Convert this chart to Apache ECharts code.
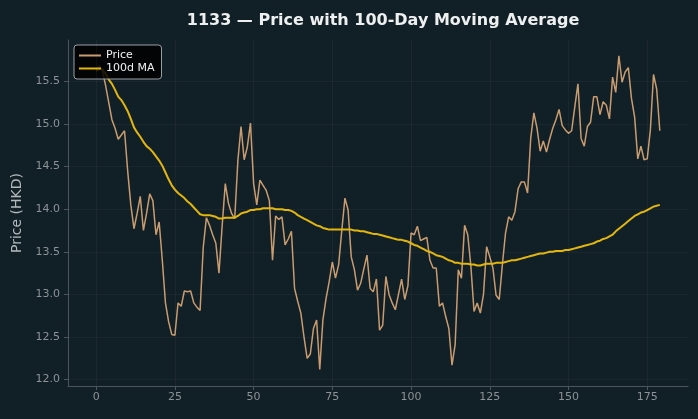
<!DOCTYPE html>
<html>
<head>
<meta charset="utf-8">
<script src="https://cdn.jsdelivr.net/npm/echarts@6/dist/echarts.min.js"></script>
<style>
  html, body { margin: 0; padding: 0; background: #111f27; }
  #chart { width: 698px; height: 419px; }
</style>
</head>
<body>
<div id="chart"></div>
<script>
// closing price, one value per trading day
const price = [
  15.62, 15.68, 15.62, 15.45, 15.25, 15.05, 14.95, 14.82, 14.87, 14.92,
  14.45, 14.05, 13.77, 13.95, 14.15, 13.75, 13.95, 14.18, 14.10, 13.70,
  13.85, 13.40, 12.90, 12.68, 12.53, 12.52, 12.90, 12.86, 13.04, 13.03,
  13.04, 12.90, 12.85, 12.81, 13.55, 13.90, 13.81, 13.70, 13.60, 13.25,
  13.80, 14.30, 14.07, 13.95, 13.89, 14.57, 14.97, 14.58, 14.73, 15.01,
  14.30, 14.05, 14.34, 14.28, 14.22, 14.10, 13.40, 13.92, 13.88, 13.91,
  13.58, 13.65, 13.74, 13.07, 12.92, 12.78, 12.50, 12.25, 12.30, 12.60,
  12.70, 12.12, 12.70, 12.95, 13.15, 13.38, 13.19, 13.35, 13.75, 14.13,
  13.99, 13.44, 13.29, 13.05, 13.13, 13.30, 13.46, 13.07, 13.03, 13.18,
  12.58, 12.64, 13.21, 13.00, 12.90, 12.82, 13.00, 13.18, 12.94, 13.10,
  13.72, 13.70, 13.80, 13.63, 13.65, 13.67, 13.40, 13.31, 13.31, 12.86,
  12.90, 12.74, 12.60, 12.17, 12.41, 13.29, 13.19, 13.81, 13.70, 13.33,
  12.80, 12.90, 12.78, 13.00, 13.56, 13.44, 13.31, 12.99, 12.94, 13.35,
  13.72, 13.91, 13.87, 13.97, 14.24, 14.32, 14.32, 14.19, 14.83, 15.13,
  14.95, 14.68, 14.80, 14.67, 14.82, 14.95, 15.05, 15.17, 14.98, 14.93,
  14.89, 14.92, 15.20, 15.47, 14.83, 14.74, 14.97, 15.02, 15.32, 15.32,
  15.11, 15.26, 15.22, 15.06, 15.55, 15.37, 15.80, 15.49, 15.61, 15.66,
  15.30, 15.08, 14.59, 14.74, 14.58, 14.59, 14.93, 15.58, 15.41, 14.92
];

// 100-day moving average as drawn
const ma100 = [
  15.62, 15.65, 15.64, 15.59, 15.52, 15.47, 15.40, 15.32, 15.28, 15.22,
  15.15, 15.06, 14.96, 14.90, 14.85, 14.79, 14.74, 14.71, 14.67, 14.62,
  14.57, 14.51, 14.43, 14.35, 14.28, 14.23, 14.19, 14.16, 14.13, 14.09,
  14.06, 14.02, 13.98, 13.94, 13.93, 13.93, 13.93, 13.92, 13.91, 13.89,
  13.89, 13.90, 13.90, 13.90, 13.90, 13.92, 13.95, 13.96, 13.97, 13.99,
  13.99, 14.00, 14.00, 14.01, 14.01, 14.01, 14.01, 14.00, 14.00, 14.00,
  13.99, 13.99, 13.98, 13.96, 13.93, 13.91, 13.89, 13.87, 13.85, 13.83,
  13.81, 13.80, 13.78, 13.77, 13.76, 13.76, 13.76, 13.76, 13.76, 13.76,
  13.76, 13.76, 13.75, 13.75, 13.74, 13.74, 13.73, 13.72, 13.71, 13.71,
  13.70, 13.69, 13.68, 13.67, 13.66, 13.65, 13.64, 13.64, 13.63, 13.62,
  13.60, 13.58, 13.57, 13.55, 13.53, 13.51, 13.50, 13.48, 13.46, 13.45,
  13.44, 13.42, 13.40, 13.39, 13.37, 13.37, 13.36, 13.36, 13.36, 13.35,
  13.35, 13.34, 13.34, 13.35, 13.36, 13.36, 13.36, 13.37, 13.37, 13.37,
  13.38, 13.39, 13.40, 13.40, 13.41, 13.42, 13.43, 13.44, 13.45, 13.46,
  13.47, 13.48, 13.48, 13.49, 13.50, 13.50, 13.51, 13.51, 13.51, 13.52,
  13.52, 13.53, 13.54, 13.55, 13.56, 13.57, 13.58, 13.59, 13.60, 13.62,
  13.63, 13.65, 13.66, 13.68, 13.70, 13.74, 13.77, 13.80, 13.83, 13.86,
  13.89, 13.92, 13.94, 13.96, 13.97, 13.99, 14.01, 14.03, 14.04, 14.05
];

const xTicks = [0, 25, 50, 75, 100, 125, 150, 175];
const yTicks = [12.0, 12.5, 13.0, 13.5, 14.0, 14.5, 15.0, 15.5];

const days = price.map((_, i) => i);

const chart = echarts.init(document.getElementById('chart'), null, { renderer: 'canvas' });

const gridColor = 'rgba(255,255,255,0.04)';
const spineColor = '#4b555b';
const labelColor = '#8c9296';
const priceColor = '#c99c6f';
const maColor = '#e3b60c';

const option = {
  backgroundColor: '#111f27',
  animation: false,
  title: {
    text: '1133 — Price with 100-Day Moving Average',
    left: 378,
    textAlign: 'center',
    top: 8,
    textStyle: { color: '#eef0f0', fontSize: 16, fontWeight: 'bold', fontFamily: 'DejaVu Sans' }
  },
  legend: {
    data: [
      { name: 'Price', icon: 'rect', itemStyle: { color: priceColor } },
      { name: '100d MA', icon: 'rect', itemStyle: { color: maColor } }
    ],
    orient: 'vertical',
    left: 74,
    top: 45,
    padding: [5, 7, 5, 5],
    itemGap: 2,
    itemWidth: 22,
    itemHeight: 2,
    backgroundColor: 'rgba(0,0,0,0.85)',
    borderColor: '#9aa0a4',
    borderWidth: 1,
    borderRadius: 3,
    textStyle: { color: '#f0f0f0', fontSize: 11, fontFamily: 'DejaVu Sans' }
  },
  grid: { left: 68, right: 10, top: 40, bottom: 33 },
  xAxis: {
    type: 'value',
    min: -8.95,
    max: 187.95,
    axisLine: { onZero: false, lineStyle: { color: spineColor } },
    axisTick: { customValues: xTicks, length: 4, lineStyle: { color: spineColor } },
    axisLabel: {
      customValues: xTicks,
      color: labelColor, fontSize: 11, fontFamily: 'DejaVu Sans', margin: 6
    },
    splitLine: { show: false }
  },
  yAxis: {
    type: 'value',
    min: 11.925,
    max: 15.985,
    name: 'Price (HKD)',
    nameLocation: 'middle',
    nameGap: 44,
    nameTextStyle: { color: '#b4b9bc', fontSize: 14, fontFamily: 'DejaVu Sans' },
    axisLine: { show: true, onZero: false, lineStyle: { color: spineColor } },
    axisTick: { show: true, customValues: yTicks, length: 4, lineStyle: { color: spineColor } },
    axisLabel: {
      customValues: yTicks,
      formatter: v => v.toFixed(1),
      color: labelColor, fontSize: 11, fontFamily: 'DejaVu Sans', margin: 8
    },
    splitLine: { show: false }
  },
  series: [
    {
      name: 'grid',
      type: 'line',
      data: [],
      z: 1,
      silent: true,
      markLine: {
        silent: true,
        symbol: 'none',
        label: { show: false },
        lineStyle: { color: gridColor, type: 'solid', width: 1 },
        data: xTicks.map(t => ({ xAxis: t })).concat(yTicks.map(t => ({ yAxis: t })))
      }
    },
    {
      name: 'Price',
      type: 'line',
      data: days.map(i => [i, price[i]]),
      symbol: 'none',
      z: 2,
      lineStyle: { color: priceColor, width: 1.5 },
      itemStyle: { color: priceColor }
    },
    {
      name: '100d MA',
      type: 'line',
      data: days.map(i => [i, ma100[i]]),
      symbol: 'none',
      z: 3,
      lineStyle: { color: maColor, width: 2 },
      itemStyle: { color: maColor }
    }
  ]
};

chart.setOption(option);
</script>
</body>
</html>
